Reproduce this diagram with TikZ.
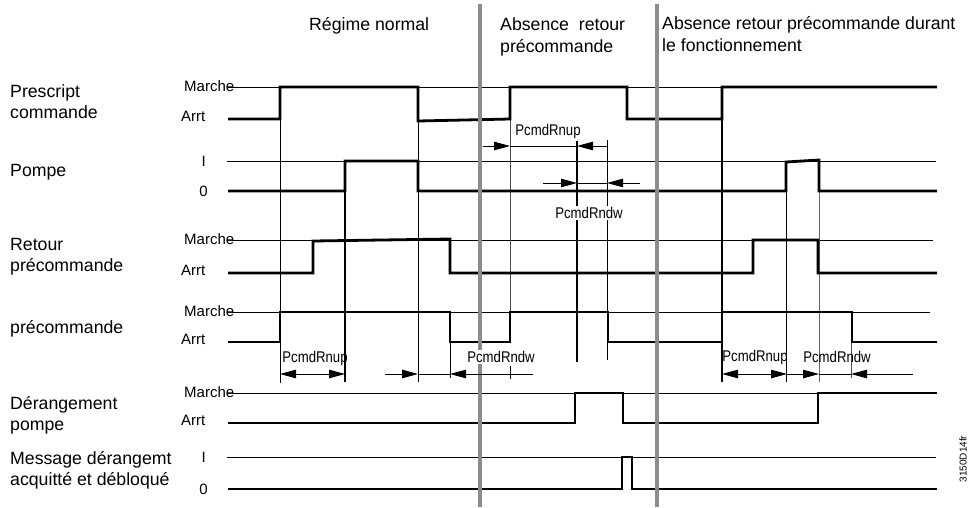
\documentclass[tikz,border=0pt]{standalone}
\usepackage{fontspec}
\setmainfont{Liberation Sans}
\newfontfamily\dimfont[FakeStretch=0.85]{Liberation Sans}
\usetikzlibrary{arrows.meta}
\definecolor{sepgray}{HTML}{8C8C8C}

\begin{document}
\begin{tikzpicture}[x=1pt, y=-1pt,
  sig/.style={line width=2.8pt, line join=miter},
  lvl/.style={line width=1pt},
  sep/.style={line width=3.4pt, draw=sepgray},
  guide/.style={line width=0.9pt},
  dim/.style={line width=0.9pt},
  tip/.style={-{Triangle[length=16pt,width=8.5pt]}},
  tips/.style={{Triangle[length=16pt,width=8.5pt]}-{Triangle[length=16pt,width=8.5pt]}},
  rowlbl/.style={inner sep=0pt, align=left, font=\fontsize{17.7}{21}\selectfont},
  title/.style={inner sep=0pt, align=left, font=\fontsize{17.7}{22}\selectfont},
  state/.style={inner sep=0pt, font=\fontsize{15}{18}\selectfont},
  dimlbl/.style={inner sep=1pt, font=\dimfont\fontsize{15.5}{18}\selectfont}
]
  \useasboundingbox (0,0) rectangle (976,507);

  % Phase titles
  \node[title, anchor=base west] (tnorm) at (309,30) {Régime normal};
  \node[title, anchor=north west] (tabs) at (500,17.1) {Absence~~retour\\précommande};
  \node[title, anchor=north west] (tfct) at (662,16) {Absence retour précommande durant\\le fonctionnement};

  % Signal names
  \node[rowlbl, anchor=north west] (pres) at (10,84.2) {Prescript\\commande};
  \node[rowlbl, anchor=base west]  (pmp)  at (10,176)  {Pompe};
  \node[rowlbl, anchor=north west] (ret)  at (10,238.2) {Retour\\précommande};
  \node[rowlbl, anchor=base west]  (pcmd) at (10,333)  {précommande};
  \node[rowlbl, anchor=north west] (der)  at (10,396.2) {Dérangement\\pompe};
  \node[rowlbl, anchor=north west] (msg)  at (10,451.2) {Message dérangemt\\acquitté et débloqué};

  % Level lines
  \draw[lvl] (228,87)  -- (937,87);
  \draw[lvl] (227,161) -- (936,161);
  \draw[lvl] (228,240) -- (933,240);
  \draw[lvl] (228,312) -- (930,312);
  \draw[lvl] (228,393) -- (937,393);
  \draw[lvl] (227,457) -- (936,457);

  % Level names
  \node[state, anchor=west] (pres-on)  at (184,86)  {Marche};
  \node[state, anchor=west] (pres-off) at (181,116) {Arrt};
  \node[state, anchor=east] (pmp-on)   at (206,161) {I};
  \node[state, anchor=east] (pmp-off)  at (208,191) {0};
  \node[state, anchor=west] (ret-on)   at (184,239) {Marche};
  \node[state, anchor=west] (ret-off)  at (181,270) {Arrt};
  \node[state, anchor=west] (pcmd-on)  at (184,311) {Marche};
  \node[state, anchor=west] (pcmd-off) at (181,339) {Arrt};
  \node[state, anchor=west] (der-on)   at (184,392) {Marche};
  \node[state, anchor=west] (der-off)  at (181,420) {Arrt};
  \node[state, anchor=east] (msg-on)   at (206,457) {I};
  \node[state, anchor=east] (msg-off)  at (208,489) {0};

  % Time guides
  \draw[guide] (280,119) -- (280,383);
  \draw[guide, line width=1.2pt] (345,191) -- (345,382);
  \draw[guide] (418,119) -- (418,382);
  \draw[guide] (450,342) -- (450,378);
  \draw[guide, draw=black!70] (510,119) -- (510,312);
  \draw[guide] (510,366) -- (510,379);
  \draw[guide, line width=2pt] (577,141) -- (577,362);
  \draw[guide] (607,140) -- (607,360);
  \draw[guide, line width=1.4pt] (722,119) -- (722,382);
  \draw[guide] (786,191) -- (786,382);
  \draw[guide, draw=black!60] (819,191) -- (819,382);
  \draw[guide, draw=black!70] (851,342) -- (851,378);

  % Signals
  \draw[sig] (228,119) -- (280,119) -- (280,87) -- (418,87) -- (418,121) -- (510,119)
    -- (510,87) -- (627,87) -- (627,119) -- (722,119) -- (722,87) -- (937,87);
  \draw[sig] (228,191) -- (345,191) -- (345,161) -- (418,161) -- (418,191) -- (786,191)
    -- (786,162) -- (819,160) -- (819,191) -- (937,191);
  \draw[sig] (228,273) -- (313,273) -- (313,241) -- (450,239) -- (450,273) -- (753,273)
    -- (753,240) -- (818,240) -- (818,273) -- (937,273);
  \draw[sig] (228,342) -- (280,342) -- (280,312) -- (450,312) -- (450,342) -- (510,342)
    -- (510,312) -- (608,312) -- (608,342) -- (722,342) -- (722,312) -- (852,312)
    -- (852,342) -- (937,342);
  \draw[sig] (228,423) -- (575,423) -- (575,393) -- (623,393) -- (623,423) -- (818,423)
    -- (818,393) -- (937,393);
  \draw[sig] (228,489) -- (622,489) -- (622,457) -- (632,457) -- (632,489) -- (937,489);

  % Phase separators
  \draw[sep] (480,4) -- (480,507);
  \draw[sep] (657,4) -- (657,507);

  % Delays, absence of feedback
  \draw[dim, tip] (483,146) -- (510,146);
  \draw[dim] (510,146) -- (577,146);
  \draw[dim, tip] (607,146) -- (577,146);
  \node[dimlbl] (up2) at (548,131) {PcmdRnup};
  \draw[dim, tip] (543,183) -- (577,183);
  \draw[dim] (577,183) -- (607,183);
  \draw[dim, tip] (640,183) -- (607,183);
  \node[dimlbl, fill=white] (dw2) at (589,213) {PcmdRndw};

  % Delays, normal run
  \draw[dim, tips] (280,374) -- (345,374);
  \node[dimlbl] (up1) at (315,358) {PcmdRnup};
  \draw[dim, tip] (385,374) -- (418,374);
  \draw[dim] (418,374) -- (450,374);
  \draw[dim, tip] (533,374) -- (450,374);
  \node[dimlbl, fill=white] (dw1) at (501,357) {PcmdRndw};

  % Delays, loss during run
  \draw[dim, tips] (722,374) -- (787,374);
  \draw[dim, tip] (787,374) -- (819,374);
  \draw[dim] (819,374) -- (851,374);
  \draw[dim, tip] (913,374) -- (851,374);
  \node[dimlbl] (up3) at (755,357) {PcmdRnup};
  \node[dimlbl] (dw3) at (837,357) {PcmdRndw};

  % Drawing number
  \node[rotate=90, inner sep=0pt, font=\fontsize{10}{12}\selectfont] (code) at (963,459) {3150D14fr};
\end{tikzpicture}
\end{document}
